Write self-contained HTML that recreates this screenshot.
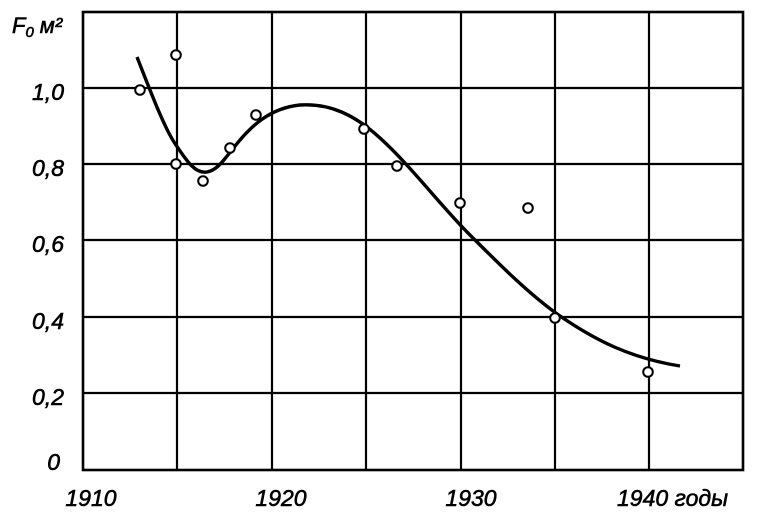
<!DOCTYPE html>
<html><head><meta charset="utf-8"><style>
body{margin:0;background:#fff;}
svg text{font-family:"Liberation Sans",sans-serif;font-style:italic;fill:#000;stroke:#000;stroke-width:0.6;}
</style></head><body>
<svg width="760" height="522" viewBox="0 0 760 522" xmlns="http://www.w3.org/2000/svg">
<g stroke="#000" stroke-width="2.2" fill="none">
<rect x="83" y="12" width="660" height="458" stroke-width="2.6"/>
<line x1="177" y1="12" x2="177" y2="470"/>
<line x1="272" y1="12" x2="272" y2="470"/>
<line x1="366" y1="12" x2="366" y2="470"/>
<line x1="461" y1="12" x2="461" y2="470"/>
<line x1="555" y1="12" x2="555" y2="470"/>
<line x1="649" y1="12" x2="649" y2="470"/>
<line x1="83" y1="88" x2="743" y2="88"/>
<line x1="83" y1="164" x2="743" y2="164"/>
<line x1="83" y1="240" x2="743" y2="240"/>
<line x1="83" y1="317" x2="743" y2="317"/>
<line x1="83" y1="393" x2="743" y2="393"/>
<path d="M137,57 C150,90 165,130 176,145 C186,160 195,174 207,172 C218,170 225,158 232,150 C250,126 270,108 300,105 C330,103 355,115 380,138 C410,165 440,205 470,235 C500,265 530,295 560,316 C595,340 630,358 680,366" stroke-width="3.4"/>
</g>
<g stroke="#000" stroke-width="2" fill="#fff">
<circle cx="140" cy="90" r="4.8"/>
<circle cx="176" cy="55" r="4.8"/>
<circle cx="176" cy="164" r="4.8"/>
<circle cx="203" cy="181" r="4.8"/>
<circle cx="230" cy="148" r="4.8"/>
<circle cx="256" cy="115" r="4.8"/>
<circle cx="364" cy="129" r="4.8"/>
<circle cx="397" cy="166" r="4.8"/>
<circle cx="460" cy="203" r="4.8"/>
<circle cx="528" cy="208" r="4.8"/>
<circle cx="555" cy="318" r="4.8"/>
<circle cx="648" cy="372" r="4.8"/>
</g>
<g font-size="23" text-anchor="end">
<text x="64" y="100">1,0</text>
<text x="64" y="176">0,8</text>
<text x="64" y="252">0,6</text>
<text x="64" y="329">0,4</text>
<text x="64" y="405">0,2</text>
<text x="60" y="470">0</text>
</g>
<text x="12" y="33" font-size="22">F<tspan font-size="15" dy="4">0</tspan><tspan dy="-4" dx="6">м²</tspan></text>
<g font-size="23" text-anchor="middle">
<text x="91" y="506">1910</text>
<text x="281" y="506">1920</text>
<text x="471" y="506">1930</text>
</g>
<text x="617" y="506" font-size="23">1940 годы</text>
</svg>
</body></html>
